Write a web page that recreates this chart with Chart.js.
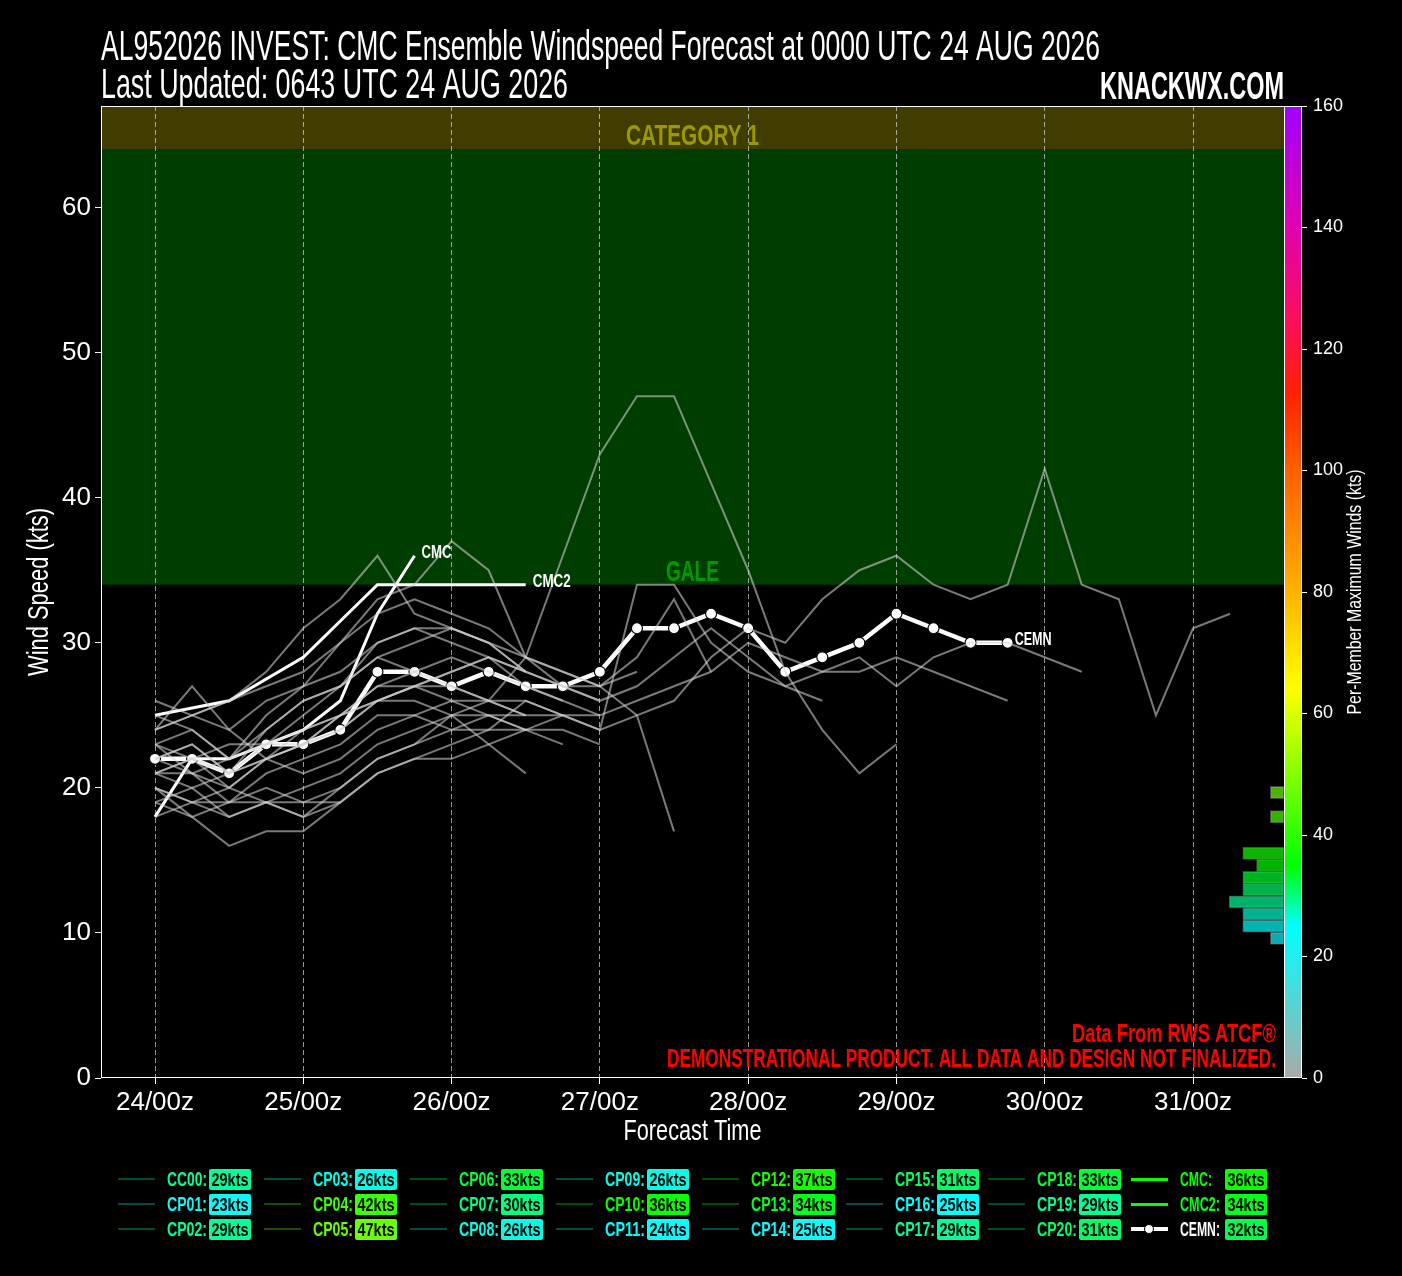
<!DOCTYPE html>
<html>
<head>
<meta charset="utf-8">
<title>AL952026 INVEST CMC Ensemble Windspeed</title>
<script src="https://cdn.jsdelivr.net/npm/chart.js@4.4.1/dist/chart.umd.min.js"></script>
<style>
  html, body { margin: 0; padding: 0; background: #000; }
  body { width: 1402px; height: 1276px; position: relative; overflow: hidden; }
  #chart { position: absolute; left: 0; top: 0; }
  #legend { position: absolute; left: 0; top: 0; width: 1402px; height: 1276px; pointer-events: none; }
  .lg { position: absolute; white-space: nowrap; font-weight: bold; line-height: 1; transform-origin: left center; }
  .lg-line { position: absolute; }
  .lg-box { position: absolute; height: 21px; border-radius: 2px; overflow: hidden; }
  .lg-box span { position: absolute; left: 50%; top: 50%; white-space: nowrap; font-weight: bold; color: #000; line-height: 1; }
</style>
</head>
<body>
<canvas id="chart" width="1402" height="1160" style="width:1402px;height:1160px"></canvas>
<div id="legend"></div>
<script>
// ---- data ----
const forecastHours = [0, 6, 12, 18, 24, 30, 36, 42, 48, 54, 60, 66, 72, 78, 84, 90, 96, 102,
  108, 114, 120, 126, 132, 138, 144, 150, 156, 162, 168, 174];
const dayLabels = ['24/00z', '25/00z', '26/00z', '27/00z', '28/00z', '29/00z', '30/00z', '31/00z'];
const windTicks = [0, 10, 20, 30, 40, 50, 60];

const memberNames = ['CC00', 'CP01', 'CP02', 'CP03', 'CP04', 'CP05', 'CP06', 'CP07', 'CP08', 'CP09', 'CP10',
  'CP11', 'CP12', 'CP13', 'CP14', 'CP15', 'CP16', 'CP17', 'CP18', 'CP19', 'CP20'];

const cc00 = [24, 27, 24, 22, 23, 25, 27, 28, 29, 28, 27, 26, 25];
const cp01 = [23, 21, 19, 20, 19, 19];
const cp02 = [22, 23, 21, 24, 26, 27, 29, 28, 27, 26, 25];
const cp03 = [20, 19, 18, 19, 20, 21, 23, 24, 25, 26, 25];
const cp04 = [20, 19, 19, 21, 22, 23, 25, 25, 24, 24, 24, 25, 24, 25, 26, 29, 31, 30, 33, 35, 36, 34, 33, 34, 42, 34, 33, 25, 31, 32];
const cp05 = [23, 22, 20, 22, 23, 25, 27, 27, 26, 26, 29, 36, 43, 47, 47, 41, 35, 28, 24, 21, 23];
const cp06 = [25, 24, 22, 23, 25, 27, 30, 31, 31, 30, 29, 28, 27, 29, 33, 28];
const cp07 = [21, 22, 23, 23, 24, 25, 26, 27, 27, 26, 26, 25, 25, 26, 27, 28, 30, 29, 28, 28, 29, 28, 27, 26];
const cp08 = [19, 18, 19, 19, 18, 19, 21, 22, 23, 24, 26, 25];
const cp09 = [21, 20, 21, 22, 21, 22, 24, 25, 26, 25, 24];
const cp10 = [24, 25, 26, 28, 31, 33, 36, 32, 31, 30, 28];
const cp11 = [20, 18, 16, 17, 17, 19, 21, 22, 22, 23, 24, 24, 23];
const cp12 = [23, 24, 22, 25, 27, 30, 33, 34, 37, 35, 29, 27, 26];
const cp13 = [21, 21, 20, 22, 23, 24, 26, 26, 25, 25, 25, 25, 24, 34, 34, 30, 28, 27, 28, 29, 27, 29, 30, 30, 29, 28];
const cp14 = [19, 20, 18, 19, 19, 20, 22, 23, 24, 25, 24, 23];
const cp15 = [26, 25, 24, 26, 27, 28, 30, 31, 30, 29, 28];
const cp16 = [18, 19, 20, 19, 18, 20, 22, 23, 25, 23, 21];
const cp17 = [22, 23, 21, 22, 24, 25, 26, 27, 28, 29, 28, 27, 27, 25, 17];
const cp18 = [24, 25, 26, 27, 28, 30, 32, 33, 32, 31, 29, 28, 27, 28];
const cp19 = [21, 22, 21, 23, 23, 24, 26, 27, 28, 29, 27, 26];
const cp20 = [22, 21, 22, 24, 26, 27, 29, 30, 31, 30, 28, 27, 26, 27, 29, 31, 29, 27, 26];

const memberSeries = [cc00, cp01, cp02, cp03, cp04, cp05, cp06, cp07, cp08, cp09, cp10,
  cp11, cp12, cp13, cp14, cp15, cp16, cp17, cp18, cp19, cp20];

const cmcHours = [0, 6, 12, 18, 24, 30, 36, 42];
const cmc = [18, 22, 22, 23, 24, 26, 32, 36];
const cmc2Hours = [0, 12, 24, 36, 48, 60];
const cmc2 = [25, 26, 29, 34, 34, 34];
const cemn = [22, 22, 21, 23, 23, 24, 28, 28, 27, 28, 27, 27, 28, 31, 31, 32, 31, 28, 29, 30, 32, 31, 30, 30];

const galeMin = 34;
const cat1Min = 64;
const histBinWidth = 2;

// ---- look ----
const FONT = "'Liberation Sans Narrow', 'Liberation Sans', 'DejaVu Sans', sans-serif";
const colorbarWidth = 18;
const galeColor = '#003d00';
const cat1Color = '#413d00';

// wind colour scale used by the colour bar, the histogram and the legend
const cmapStops = [
  [0, [170, 170, 170]], [25, [0, 255, 255]], [35, [0, 255, 0]], [64, [255, 255, 0]],
  [83, [255, 165, 0]], [100, [255, 96, 0]], [113, [255, 32, 0]], [123, [255, 16, 80]],
  [140, [225, 0, 176]], [160, [160, 0, 255]]
];

function windRGB(v) {
  for (let i = 1; i < cmapStops.length; i++) {
    const [v1, c1] = cmapStops[i];
    const [v0, c0] = cmapStops[i - 1];
    if (v <= v1) {
      const t = (v - v0) / (v1 - v0);
      return c0.map((c, k) => Math.round(c + (c1[k] - c) * t));
    }
  }
  return cmapStops[cmapStops.length - 1][1];
}
function windColor(v, alpha = 1) {
  const [r, g, b] = windRGB(v);
  return `rgba(${r},${g},${b},${alpha})`;
}
function windDim(v, f) {
  const [r, g, b] = windRGB(v);
  return `rgb(${Math.round(r * f)},${Math.round(g * f)},${Math.round(b * f)})`;
}

// ---- histogram of per-member maxima ----
const memberMax = memberSeries.map(s => Math.max(...s));
const allMax = [...memberMax, Math.max(...cmc), Math.max(...cmc2), Math.max(...cemn)];
const histMap = {};
allMax.forEach(v => {
  const lo = Math.floor(v / histBinWidth) * histBinWidth;
  histMap[lo] = (histMap[lo] || 0) + 1;
});
const histBins = Object.keys(histMap).map(Number).sort((a, b) => a - b);
const histData = histBins.map(lo => ({ x: histMap[lo], y: lo + histBinWidth / 2 }));

// ---- text helper: squeeze text to a measured width ----
function fitText(ctx, text, x, y, o) {
  ctx.save();
  ctx.font = o.font;
  ctx.fillStyle = o.color;
  ctx.textBaseline = o.baseline || 'middle';
  ctx.textAlign = 'left';
  const w = ctx.measureText(text).width;
  const sx = o.width ? o.width / w : 1;
  ctx.translate(x, y);
  if (o.rotate) ctx.rotate(o.rotate);
  ctx.scale(sx, 1);
  const dx = o.align === 'right' ? -w : o.align === 'center' ? -w / 2 : 0;
  ctx.fillText(text, dx, 0);
  ctx.restore();
}

const datasets = [];
memberSeries.forEach((s, i) => {
  datasets.push({
    label: memberNames[i],
    data: s.map((v, k) => ({ x: forecastHours[k], y: v })),
    borderColor: 'rgba(210,210,210,0.58)',
    borderWidth: 2,
    pointRadius: 0,
    tension: 0,
    xAxisID: 'x', yAxisID: 'y'
  });
});
const iCMC = datasets.push({
  label: 'CMC', data: cmc.map((v, k) => ({ x: cmcHours[k], y: v })),
  borderColor: '#fff', borderWidth: 3, pointRadius: 0, xAxisID: 'x', yAxisID: 'y'
}) - 1;
const iCMC2 = datasets.push({
  label: 'CMC2', data: cmc2.map((v, k) => ({ x: cmc2Hours[k], y: v })),
  borderColor: '#fff', borderWidth: 3, pointRadius: 0, xAxisID: 'x', yAxisID: 'y'
}) - 1;
const iCEMN = datasets.push({
  label: 'CEMN', data: cemn.map((v, k) => ({ x: forecastHours[k], y: v })),
  borderColor: '#fff', borderWidth: 4.5, pointRadius: 5.5,
  pointBackgroundColor: '#fff', pointBorderColor: '#000', pointBorderWidth: 1.2,
  xAxisID: 'x', yAxisID: 'y'
}) - 1;
datasets.push({
  type: 'bar',
  label: 'max winds',
  indexAxis: 'y',
  data: histData,
  xAxisID: 'x2', yAxisID: 'y2',
  backgroundColor: histData.map(d => windColor(d.y, 0.7)),
  borderColor: 'rgba(255,255,255,0.25)',
  borderWidth: 1,
  borderSkipped: false,
  grouped: false,
  barPercentage: 1,
  categoryPercentage: 1
});

const endLabels = [
  { ds: iCMC, text: 'CMC', width: 30 },
  { ds: iCMC2, text: 'CMC2', width: 38 },
  { ds: iCEMN, text: 'CEMN', width: 37 }
];

const decor = {
  id: 'decor',
  beforeDraw(chart) {
    const { ctx, chartArea: ca, scales: { y } } = chart;
    const right = ca.right - colorbarWidth;
    ctx.save();
    ctx.fillStyle = '#000';
    ctx.fillRect(0, 0, chart.width, chart.height);
    const yG = y.getPixelForValue(galeMin), yC = y.getPixelForValue(cat1Min);
    ctx.fillStyle = galeColor;
    ctx.fillRect(ca.left, yC, right - ca.left, yG - yC);
    ctx.fillStyle = cat1Color;
    ctx.fillRect(ca.left, ca.top, right - ca.left, yC - ca.top);
    ctx.restore();

    fitText(ctx, 'AL952026 INVEST: CMC Ensemble Windspeed Forecast at 0000 UTC 24 AUG 2026', ca.left, 60,
      { font: '42px ' + FONT, color: '#fff', width: 999, baseline: 'alphabetic' });
    fitText(ctx, 'Last Updated: 0643 UTC 24 AUG 2026', ca.left, 98,
      { font: '42px ' + FONT, color: '#fff', width: 467, baseline: 'alphabetic' });
    fitText(ctx, 'KNACKWX.COM', right, 99,
      { font: 'bold 38px ' + FONT, color: '#fff', width: 184, align: 'right', baseline: 'alphabetic' });
  },
  beforeDatasetsDraw(chart) {
    const { ctx, chartArea: ca, scales: { y } } = chart;
    const mid = (ca.left + ca.right - colorbarWidth) / 2;
    fitText(ctx, 'CATEGORY 1', mid, y.getPixelForValue(cat1Min) - 5,
      { font: 'bold 30px ' + FONT, color: '#9a9a00', width: 133, align: 'center', baseline: 'alphabetic' });
    fitText(ctx, 'GALE', mid, y.getPixelForValue(galeMin) - 4,
      { font: 'bold 30px ' + FONT, color: '#009a00', width: 53, align: 'center', baseline: 'alphabetic' });
  },
  afterDatasetsDraw(chart) {
    const { ctx, chartArea: ca, scales: { y2 } } = chart;
    const right = ca.right - colorbarWidth;

    endLabels.forEach(l => {
      const pts = chart.getDatasetMeta(l.ds).data;
      const p = pts[pts.length - 1];
      fitText(ctx, l.text, p.x + 7, p.y - 3, { font: 'bold 18px ' + FONT, color: '#fff', width: l.width });
    });

    // colour bar
    ctx.save();
    const g = ctx.createLinearGradient(0, y2.getPixelForValue(0), 0, y2.getPixelForValue(160));
    cmapStops.forEach(([v, c]) => g.addColorStop(v / 160, `rgb(${c[0]},${c[1]},${c[2]})`));
    ctx.fillStyle = g;
    ctx.fillRect(right, ca.top, colorbarWidth, ca.bottom - ca.top);
    ctx.strokeStyle = '#fff';
    ctx.lineWidth = 1;
    ctx.strokeRect(right + 0.5, ca.top + 0.5, colorbarWidth - 1, ca.bottom - ca.top - 1);
    ctx.strokeRect(ca.left + 0.5, ca.top + 0.5, right - ca.left, ca.bottom - ca.top - 1);
    ctx.restore();

    fitText(ctx, 'Data From RWS ATCF\u00AE', right - 8, 1042,
      { font: 'bold 25px ' + FONT, color: '#ff0000', width: 204, align: 'right', baseline: 'alphabetic' });
    fitText(ctx, 'DEMONSTRATIONAL PRODUCT. ALL DATA AND DESIGN NOT FINALIZED.', right - 8, 1067,
      { font: 'bold 25px ' + FONT, color: '#ff0000', width: 609, align: 'right', baseline: 'alphabetic' });

    const cy = (ca.top + ca.bottom) / 2;
    fitText(ctx, 'Wind Speed (kts)', 40, cy,
      { font: '30px ' + FONT, color: '#fff', width: 168, align: 'center', rotate: -Math.PI / 2 });
    fitText(ctx, 'Forecast Time', (ca.left + right) / 2, 1132,
      { font: '30px ' + FONT, color: '#fff', width: 138, align: 'center' });
    fitText(ctx, 'Per-Member Maximum Winds (kts)', 1355, cy,
      { font: '20px ' + FONT, color: '#fff', width: 245, align: 'center', rotate: -Math.PI / 2 });
  }
};

const tickFont = { family: FONT, size: 26 };

new Chart(document.getElementById('chart'), {
  type: 'line',
  data: { datasets },
  options: {
    responsive: false,
    animation: false,
    devicePixelRatio: 1,
    layout: { padding: { top: 106, left: 0, right: 0, bottom: 0 } },
    plugins: { legend: { display: false }, tooltip: { enabled: false }, title: { display: false } },
    scales: {
      x: {
        type: 'linear', min: -8.74, max: 185.64,
        afterFit: s => { s.height = 82; },
        afterBuildTicks: s => { s.ticks = dayLabels.map((_, i) => ({ value: i * 24 })); },
        ticks: { color: '#fff', font: tickFont, padding: 3, maxRotation: 0, autoSkip: false,
          callback: v => dayLabels[Math.round(v / 24)] },
        grid: { color: 'rgba(215,215,215,0.7)', tickColor: '#fff', tickLength: 6, lineWidth: 1 },
        border: { display: false, dash: [5, 3] }
      },
      y: {
        type: 'linear', position: 'left', min: 0, max: 67,
        afterFit: s => { s.width = 101; },
        afterBuildTicks: s => { s.ticks = windTicks.map(v => ({ value: v })); },
        ticks: { color: '#fff', font: tickFont, padding: 4 },
        grid: { drawOnChartArea: false, tickColor: '#fff', tickLength: 6 },
        border: { display: false }
      },
      y2: {
        type: 'linear', position: 'right', min: 0, max: 160, offset: false,
        afterFit: s => { s.width = 100; },
        ticks: { stepSize: 20, color: '#fff', font: { family: FONT, size: 18 }, padding: 6 },
        grid: { drawOnChartArea: false, offset: false, tickColor: '#fff', tickLength: 5 },
        border: { display: false }
      },
      x2: { type: 'linear', display: false, reverse: true, min: -1.31, max: 86.04, offset: false }
    }
  },
  plugins: [decor]
});

// ---- legend ----
const legend = document.getElementById('legend');
const measureCtx = document.createElement('canvas').getContext('2d');
const legendCols = [167, 313, 459, 605, 751, 895, 1037, 1180];
const legendRows = [1179, 1204, 1229];

function addText(parent, text, left, top, color, size, targetW) {
  const el = document.createElement('div');
  el.className = 'lg';
  el.textContent = text;
  el.style.left = left + 'px';
  el.style.top = top + 'px';
  el.style.color = color;
  el.style.fontSize = size + 'px';
  el.style.fontFamily = FONT;
  measureCtx.font = `bold ${size}px ${FONT}`;
  const w = measureCtx.measureText(text).width;
  el.style.transform = `translateY(-50%) scaleX(${targetW / w})`;
  parent.appendChild(el);
}

function addEntry(col, row, name, maxWind, lineColor, lineH, nameColor, withDot) {
  const lx = legendCols[col], ly = legendRows[row];
  const line = document.createElement('div');
  line.className = 'lg-line';
  line.style.left = (lx - 49) + 'px';
  line.style.width = '37px';
  line.style.top = (ly - lineH / 2) + 'px';
  line.style.height = lineH + 'px';
  line.style.background = lineColor;
  legend.appendChild(line);
  if (withDot) {
    const dot = document.createElement('div');
    dot.style.cssText = `position:absolute;left:${lx - 36}px;top:${ly - 5}px;width:10px;height:10px;border-radius:50%;background:#fff;border:1px solid #000;box-sizing:border-box;`;
    legend.appendChild(dot);
  }
  const label = name + ':';
  addText(legend, label, lx, ly, nameColor, 20, 8 * label.length);
  const box = document.createElement('div');
  box.className = 'lg-box';
  const bx = col === 7 ? lx + 45 : lx + 42;
  box.style.left = bx + 'px';
  box.style.top = (ly - 10.5) + 'px';
  box.style.width = '42px';
  box.style.background = windColor(maxWind);
  const sp = document.createElement('span');
  sp.textContent = maxWind + 'kts';
  sp.style.fontFamily = FONT;
  sp.style.fontSize = '19px';
  measureCtx.font = `bold 19px ${FONT}`;
  const w = measureCtx.measureText(sp.textContent).width;
  sp.style.transform = `translate(-50%,-50%) scaleX(${37 / w})`;
  box.appendChild(sp);
  legend.appendChild(box);
}

memberNames.forEach((n, i) => {
  const m = memberMax[i];
  addEntry(Math.floor(i / 3), i % 3, n, m, windDim(m, 0.3), 2, windColor(m), false);
});
addEntry(7, 0, 'CMC', Math.max(...cmc), windColor(Math.max(...cmc)), 3, windColor(Math.max(...cmc)), false);
addEntry(7, 1, 'CMC2', Math.max(...cmc2), windColor(Math.max(...cmc2)), 3, windColor(Math.max(...cmc2)), false);
addEntry(7, 2, 'CEMN', Math.max(...cemn), '#fff', 4, '#fff', true);
</script>
</body>
</html>
